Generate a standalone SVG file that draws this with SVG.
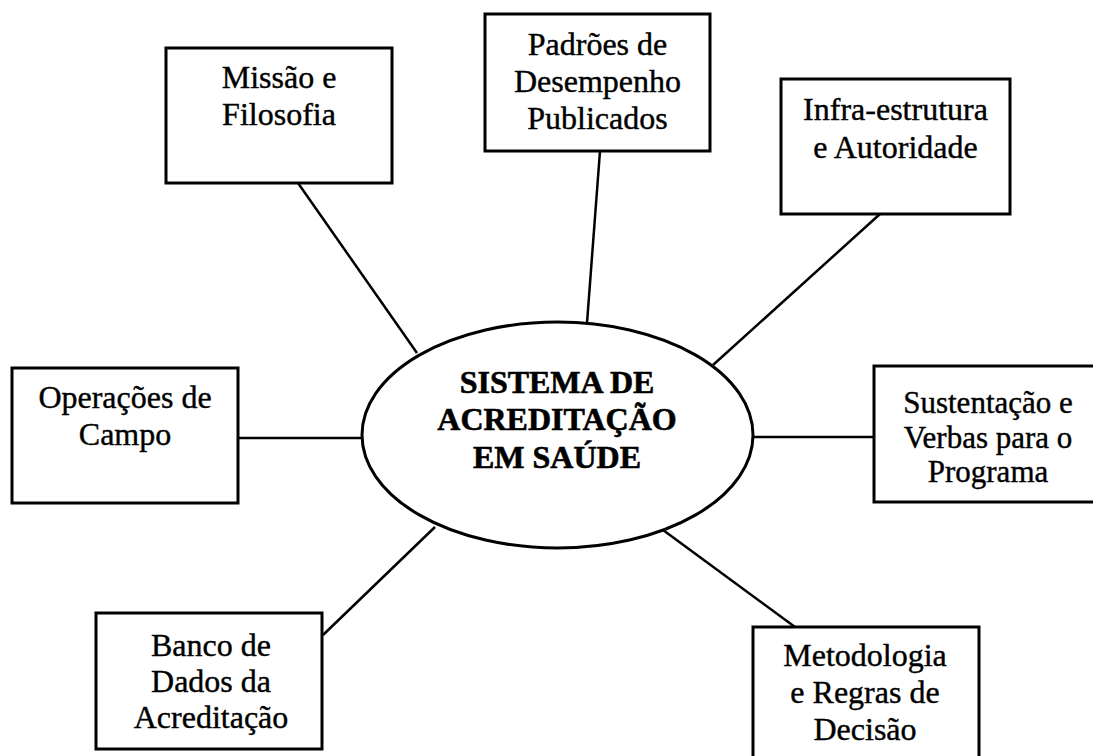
<svg xmlns="http://www.w3.org/2000/svg" width="1093" height="756" viewBox="0 0 1093 756">
<style>
.box{fill:#fff;stroke:#000;stroke-width:3}
.t{font-family:"Liberation Serif","Times New Roman",serif;font-size:32px;fill:#000;text-anchor:middle;stroke:#000;stroke-width:0.4}
.b{font-weight:bold;stroke-width:0.6}
.s{font-size:31px}
.c line{stroke:#000;stroke-width:2.5}
</style>
<rect width="1093" height="756" fill="#fff"/>
<g id="connectors" class="c">
<line x1="298" y1="183" x2="417" y2="353"/>
<line x1="600" y1="151" x2="587" y2="323"/>
<line x1="880" y1="214" x2="713" y2="365"/>
<line x1="238" y1="438" x2="362" y2="438"/>
<line x1="753" y1="437" x2="874" y2="437"/>
<line x1="323" y1="635" x2="435" y2="527"/>
<line x1="663" y1="530" x2="795" y2="627"/>
</g>
<g id="center">
<ellipse cx="557.5" cy="435" rx="195.5" ry="113" fill="#fff" stroke="#000" stroke-width="3"/>
<text class="t b" x="557" y="393">SISTEMA DE</text>
<text class="t b" x="557" y="430">ACREDITAÇÃO</text>
<text class="t b" x="557" y="468">EM SAÚDE</text>
</g>
<g id="missao">
<rect class="box" x="166" y="48" width="226" height="135"/>
<text class="t" x="279" y="88">Missão e</text>
<text class="t" x="279" y="125">Filosofia</text>
</g>
<g id="padroes">
<rect class="box" x="485" y="14" width="225" height="137"/>
<text class="t" x="597.5" y="55">Padrões de</text>
<text class="t" x="597.5" y="92">Desempenho</text>
<text class="t" x="597.5" y="129">Publicados</text>
</g>
<g id="infra">
<rect class="box" x="781" y="79" width="229" height="135"/>
<text class="t" x="895.5" y="120">Infra-estrutura</text>
<text class="t" x="895.5" y="158">e Autoridade</text>
</g>
<g id="operacoes">
<rect class="box" x="12" y="368" width="226" height="135"/>
<text class="t" x="125" y="408">Operações de</text>
<text class="t" x="125" y="445">Campo</text>
</g>
<g id="sustentacao">
<rect class="box" x="874" y="366" width="229" height="136"/>
<text class="t s" x="988" y="413">Sustentação e</text>
<text class="t s" x="988" y="447.5">Verbas para o</text>
<text class="t s" x="988" y="482">Programa</text>
</g>
<g id="banco">
<rect class="box" x="96" y="613" width="226" height="136"/>
<text class="t" x="211" y="656">Banco de</text>
<text class="t" x="211" y="692">Dados da</text>
<text class="t" x="211" y="728">Acreditação</text>
</g>
<g id="metodologia">
<rect class="box" x="753" y="627" width="226" height="140"/>
<text class="t" x="865" y="666">Metodologia</text>
<text class="t" x="865" y="703">e Regras de</text>
<text class="t" x="865" y="740">Decisão</text>
</g>
</svg>
